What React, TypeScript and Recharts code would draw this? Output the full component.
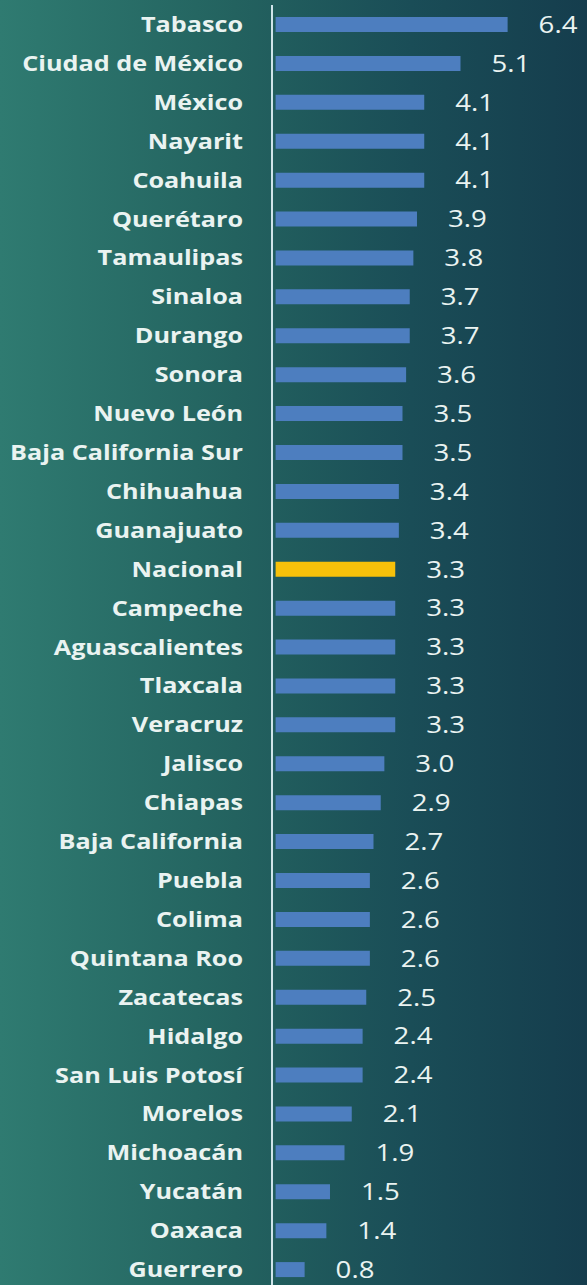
import { Bar, BarChart, Cell, LabelList, XAxis, YAxis } from "recharts";

const STATES = [
  "Tabasco", "Ciudad de México", "México", "Nayarit", "Coahuila", "Querétaro", "Tamaulipas",
  "Sinaloa", "Durango", "Sonora", "Nuevo León", "Baja California Sur", "Chihuahua", "Guanajuato",
  "Nacional", "Campeche", "Aguascalientes", "Tlaxcala", "Veracruz", "Jalisco", "Chiapas",
  "Baja California", "Puebla", "Colima", "Quintana Roo", "Zacatecas", "Hidalgo", "San Luis Potosí",
  "Morelos", "Michoacán", "Yucatán", "Oaxaca", "Guerrero",
];
const VALUES = [
  6.4, 5.1, 4.1, 4.1, 4.1, 3.9, 3.8,
  3.7, 3.7, 3.6, 3.5, 3.5, 3.4, 3.4,
  3.3, 3.3, 3.3, 3.3, 3.3, 3.0, 2.9,
  2.7, 2.6, 2.6, 2.6, 2.5, 2.4, 2.4,
  2.1, 1.9, 1.5, 1.4, 0.8,
];
const HIGHLIGHT = "Nacional";

const BAR = "#4d7ebf";
const GOLD = "#f7c10a";
const TEXT = "#eaf3f1";
const AXIS_LINE = "#cfe4ea";
const STRETCH = 1.2;

const rows = STATES.map((name, i) => ({ name, value: VALUES[i] }));

function StateTick({ x, y, payload }: any) {
  return (
    <g transform={`translate(${x},${y}) scale(${STRETCH},1)`}>
      <text x={0} y={0} dy="0.36em" textAnchor="end" fill={TEXT}
        fontFamily="'Open Sans', sans-serif" fontWeight={700} fontSize={21}>
        {payload.value}
      </text>
    </g>
  );
}

function ValueLabel({ x, y, width, height, value }: any) {
  const lx = Number(x) + Number(width) + 31;
  const ly = Number(y) + Number(height) / 2;
  return (
    <g transform={`translate(${lx},${ly}) scale(${STRETCH},1)`}>
      <text x={0} y={0} dy="0.36em" textAnchor="start" fill={TEXT}
        fontFamily="'Open Sans', sans-serif" fontWeight={400} fontSize={23}>
        {Number(value).toFixed(1)}
      </text>
    </g>
  );
}

export default function App() {
  return (
    <div style={{
      position: "absolute", top: 0, left: 0, width: 587, height: 1285, overflow: "hidden",
      background: "linear-gradient(90deg, #2f7b71 0%, #23625f 40%, #1a4d57 70%, #153d4d 100%)",
    }}>
      <BarChart width={587} height={1289} data={rows} layout="vertical"
        margin={{ top: 5, right: 0, left: 0, bottom: 0 }}>
        <XAxis type="number" hide domain={[-0.1, 8.59]} allowDataOverflow />
        <YAxis type="category" dataKey="name" width={272} interval={0}
          axisLine={{ stroke: AXIS_LINE, strokeWidth: 2 }} tickLine={false}
          tickSize={0} tickMargin={29} tick={<StateTick />} />
        <Bar dataKey="value" barSize={15} isAnimationActive={false}>
          {rows.map((r) => <Cell key={r.name} fill={r.name === HIGHLIGHT ? GOLD : BAR} />)}
          <LabelList dataKey="value" content={<ValueLabel />} />
        </Bar>
      </BarChart>
    </div>
  );
}
